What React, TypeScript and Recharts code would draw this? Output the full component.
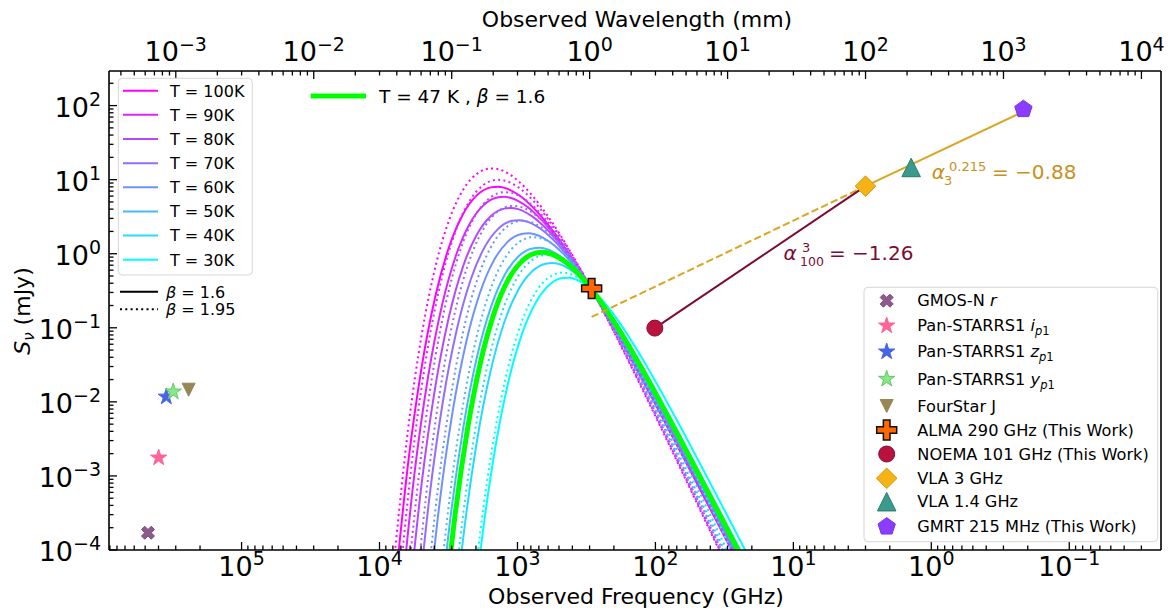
import React from 'react';
import { ComposedChart, Line, Scatter, XAxis, YAxis } from 'recharts';

const FONT = '"DejaVu Sans", Verdana, sans-serif';

// modified blackbody curves
// frequency axis per temperature, log10(GHz)
const nu100 = [1.193, 1.393, 1.593, 1.793, 1.993, 2.193, 2.393, 2.593, 2.793, 2.893, 2.993, 3.093, 3.143, 3.193, 3.293, 3.393, 3.493, 3.593, 3.693, 3.793, 3.893];
const nu90 = [1.147, 1.347, 1.547, 1.747, 1.947, 2.147, 2.347, 2.547, 2.747, 2.847, 2.947, 3.047, 3.097, 3.147, 3.247, 3.347, 3.447, 3.547, 3.647, 3.747, 3.847];
const nu80 = [1.096, 1.296, 1.496, 1.696, 1.896, 2.096, 2.296, 2.496, 2.696, 2.796, 2.896, 2.996, 3.046, 3.096, 3.196, 3.296, 3.396, 3.496, 3.596, 3.696, 3.796];
const nu70 = [1.038, 1.238, 1.438, 1.638, 1.838, 2.038, 2.238, 2.438, 2.638, 2.738, 2.838, 2.938, 2.988, 3.038, 3.138, 3.238, 3.338, 3.438, 3.538, 3.638, 3.738];
const nu60 = [0.971, 1.171, 1.371, 1.571, 1.771, 1.971, 2.171, 2.371, 2.571, 2.671, 2.771, 2.871, 2.921, 2.971, 3.071, 3.171, 3.271, 3.371, 3.471, 3.571, 3.671];
const nu50 = [0.892, 1.092, 1.292, 1.492, 1.692, 1.892, 2.092, 2.292, 2.492, 2.592, 2.692, 2.792, 2.842, 2.892, 2.992, 3.092, 3.192, 3.292, 3.392, 3.492, 3.592];
const nu47 = [0.865, 1.065, 1.265, 1.465, 1.665, 1.865, 2.065, 2.265, 2.465, 2.565, 2.665, 2.765, 2.815, 2.865, 2.965, 3.065, 3.165, 3.265, 3.365, 3.465, 3.565];
const nu40 = [0.795, 0.995, 1.195, 1.395, 1.595, 1.795, 1.995, 2.195, 2.395, 2.495, 2.595, 2.695, 2.745, 2.795, 2.895, 2.995, 3.095, 3.195, 3.295, 3.395, 3.495];
const nu30 = [0.67, 0.87, 1.07, 1.27, 1.47, 1.67, 1.87, 2.07, 2.27, 2.37, 2.47, 2.57, 2.62, 2.67, 2.77, 2.87, 2.97, 3.07, 3.17, 3.27, 3.37];

// log10(mJy), beta = 1.6
const s100a = [-4.918, -4.198, -3.48, -2.765, -2.056, -1.363, -0.701, -0.093, 0.427, 0.636, 0.796, 0.889, 0.905, 0.896, 0.791, 0.541, 0.107, -0.557, -1.513, -2.835, -4.619];
const s90a = [-5.066, -4.347, -3.629, -2.914, -2.203, -1.508, -0.842, -0.231, 0.289, 0.498, 0.658, 0.752, 0.768, 0.759, 0.653, 0.403, -0.03, -0.695, -1.651, -2.973, -4.756];
const s80a = [-5.23, -4.511, -3.793, -3.077, -2.366, -1.668, -0.998, -0.383, 0.139, 0.348, 0.508, 0.602, 0.618, 0.609, 0.503, 0.253, -0.18, -0.845, -1.801, -3.123, -4.906];
const s70a = [-5.413, -4.693, -3.974, -3.258, -2.546, -1.846, -1.173, -0.552, -0.026, 0.184, 0.344, 0.437, 0.453, 0.445, 0.339, 0.089, -0.345, -1.009, -1.965, -3.287, -5.071];
const s60a = [-5.618, -4.899, -4.18, -3.462, -2.75, -2.047, -1.368, -0.74, -0.207, 0.005, 0.165, 0.259, 0.275, 0.266, 0.16, -0.09, -0.523, -1.188, -2.143, -3.466, -5.249];
const s50a = [-5.852, -5.133, -4.414, -3.697, -2.982, -2.277, -1.592, -0.954, -0.41, -0.194, -0.031, 0.065, 0.081, 0.072, -0.034, -0.284, -0.717, -1.382, -2.338, -3.66, -5.443];
const s47a = [-5.93, -5.21, -4.491, -3.773, -3.059, -2.352, -1.666, -1.024, -0.476, -0.258, -0.093, 0.003, 0.019, 0.011, -0.095, -0.345, -0.779, -1.443, -2.399, -3.721, -5.505];
const s40a = [-6.124, -5.405, -4.685, -3.967, -3.252, -2.544, -1.852, -1.202, -0.639, -0.413, -0.243, -0.143, -0.126, -0.134, -0.239, -0.489, -0.922, -1.587, -2.542, -3.865, -5.648];
const s30a = [-6.444, -5.723, -5.005, -4.286, -3.569, -2.858, -2.161, -1.496, -0.904, -0.66, -0.47, -0.352, -0.326, -0.328, -0.423, -0.669, -1.099, -1.763, -2.719, -4.041, -5.825];

// log10(mJy), beta = 1.95
const s100b = [-5.362, -4.573, -3.785, -2.999, -2.221, -1.458, -0.725, -0.047, 0.543, 0.787, 0.981, 1.11, 1.143, 1.152, 1.081, 0.866, 0.468, -0.162, -1.082, -2.37, -4.118];
const s90b = [-5.527, -4.737, -3.949, -3.164, -2.383, -1.618, -0.883, -0.202, 0.389, 0.633, 0.828, 0.956, 0.99, 0.998, 0.928, 0.713, 0.314, -0.315, -1.236, -2.523, -4.272];
const s80b = [-5.709, -4.919, -4.131, -3.345, -2.564, -1.796, -1.057, -0.371, 0.221, 0.465, 0.66, 0.788, 0.822, 0.831, 0.76, 0.545, 0.146, -0.483, -1.404, -2.691, -4.44];
const s70b = [-5.911, -5.122, -4.333, -3.546, -2.765, -1.995, -1.251, -0.561, 0.036, 0.281, 0.475, 0.604, 0.637, 0.646, 0.575, 0.36, -0.038, -0.668, -1.588, -2.876, -4.624];
const s60b = [-6.14, -5.351, -4.562, -3.774, -2.992, -2.219, -1.47, -0.772, -0.169, 0.078, 0.273, 0.402, 0.435, 0.444, 0.373, 0.158, -0.24, -0.87, -1.79, -3.078, -4.826];
const s50b = [-6.402, -5.613, -4.824, -4.036, -3.252, -2.477, -1.722, -1.014, -0.399, -0.148, 0.049, 0.18, 0.213, 0.222, 0.151, -0.064, -0.462, -1.092, -2.012, -3.299, -5.048];
const s40b = [-6.708, -5.918, -5.129, -4.341, -3.555, -2.777, -2.016, -1.296, -0.663, -0.402, -0.196, -0.062, -0.027, -0.018, -0.087, -0.302, -0.701, -1.33, -2.251, -3.538, -5.287];
const s30b = [-7.071, -6.281, -5.492, -4.703, -3.917, -3.136, -2.368, -1.633, -0.971, -0.692, -0.467, -0.314, -0.271, -0.255, -0.316, -0.526, -0.921, -1.551, -2.471, -3.759, -5.507];

const temps = [100, 90, 80, 70, 60, 50, 40, 30];
const tempNu = [nu100, nu90, nu80, nu70, nu60, nu50, nu40, nu30];
const tempS16 = [s100a, s90a, s80a, s70a, s60a, s50a, s40a, s30a];
const tempS195 = [s100b, s90b, s80b, s70b, s60b, s50b, s40b, s30b];
const tempColors = ['#ff00ff', '#db24ff', '#b649ff', '#926dff', '#6d92ff', '#49b6ff', '#24dbff', '#00ffff'];

// photometry: GHz, mJy
const photNames = ['GMOS-N r', 'Pan-STARRS1 i', 'Pan-STARRS1 z', 'Pan-STARRS1 y', 'FourStar J', 'ALMA 290 GHz', 'NOEMA 101 GHz', 'VLA 3 GHz', 'VLA 1.4 GHz', 'GMRT 215 MHz'];
const photFreq = [4.77e5, 3.99e5, 3.51e5, 3.13e5, 2.42e5, 290, 101, 3, 1.4, 0.215];
const photFlux = [1.71e-4, 1.76e-3, 0.0117, 0.0137, 0.0146, 0.34, 0.099, 8.17, 14.6, 89.3];

// spectral index lines
const radioFitFreq = [3, 0.215];
const radioFitFlux = [8.17, 83];
const radioExtFreq = [290, 3];
const radioExtFlux = [0.14, 8.17];
const mmFitFreq = [101, 3];
const mmFitFlux = [0.099, 8.17];

const photStyle = [
  { kind: 'X', fill: '#8c5a8c', stroke: '#7a4a7a' },
  { kind: 'star', fill: '#ff6496', stroke: '#ff6496' },
  { kind: 'star', fill: '#4664e6', stroke: '#4664e6' },
  { kind: 'star', fill: '#86e886', stroke: '#66c466' },
  { kind: 'vtri', fill: '#968755', stroke: '#968755' },
  { kind: 'P', fill: '#ff6600', stroke: '#111' },
  { kind: 'circle', fill: '#b8123f', stroke: '#8c0d2f' },
  { kind: 'D', fill: '#f5b316', stroke: '#d99a0d' },
  { kind: 'tri', fill: '#3a9a8c', stroke: '#2b7a6e' },
  { kind: 'pent', fill: '#8a3cff', stroke: '#7a30e8' },
];

const X_MIN = -1.665;
const X_MAX = 5.961;
const Y_MIN = -4;
const Y_MAX = 2.467;
const LOG_C = Math.log10(299.792458);

const zip = (xs: number[], ys: number[]) => xs.map((x, i) => ({ x, y: ys[i] }));
const toLog = (f: number[], s: number[]) => f.map((v, i) => ({ x: Math.log10(v), y: Math.log10(s[i]) }));

const logTicks = (lo: number, hi: number) => {
  const out: number[] = [];
  for (let n = Math.floor(lo); n <= Math.ceil(hi); n++) {
    for (let k = 1; k < 10; k++) {
      const v = n + Math.log10(k);
      if (v >= lo - 1e-9 && v <= hi + 1e-9) out.push(v);
    }
  }
  return out;
};
const bottomTicks = logTicks(X_MIN, X_MAX);
const yTicks = logTicks(Y_MIN, Y_MAX);
const topTicks = logTicks(LOG_C - X_MAX, LOG_C - X_MIN).map((v) => LOG_C - v);

const isInt = (v: number) => Math.abs(v - Math.round(v)) < 1e-6;
const expText = (n: number) => (n < 0 ? '\u2212' + Math.abs(n) : String(n));

const BottomTick = (props: any) => {
  const { x, y, payload } = props;
  const major = isInt(payload.value);
  return (
    <g>
      <line x1={x} x2={x} y1={y} y2={y - (major ? 8 : 4.5)} stroke="#000" strokeWidth={1.3} />
      {major && (
        <text x={x} y={y + 26} textAnchor="middle" fontSize={27} fontFamily={FONT} fill="#000">
          10<tspan dy={-11} fontSize={19}>{expText(Math.round(payload.value))}</tspan>
        </text>
      )}
    </g>
  );
};

const TopTick = (props: any) => {
  const { x, y, payload } = props;
  const m = LOG_C - payload.value;
  const major = isInt(m);
  return (
    <g>
      <line x1={x} x2={x} y1={y} y2={y + (major ? 8 : 4.5)} stroke="#000" strokeWidth={1.3} />
      {major && (
        <text x={x} y={y - 10} textAnchor="middle" fontSize={27} fontFamily={FONT} fill="#000">
          10<tspan dy={-10} fontSize={19}>{expText(Math.round(m))}</tspan>
        </text>
      )}
    </g>
  );
};

const LeftTick = (props: any) => {
  const { x, y, payload } = props;
  const major = isInt(payload.value);
  return (
    <g>
      <line x1={x} x2={x + (major ? 8 : 4.5)} y1={y} y2={y} stroke="#000" strokeWidth={1.3} />
      {major && (
        <text x={x - 8} y={y + 11.4} textAnchor="end" fontSize={27} fontFamily={FONT} fill="#000">
          10<tspan dy={-11} fontSize={19}>{expText(Math.round(payload.value))}</tspan>
        </text>
      )}
    </g>
  );
};

const X_PTS = [[-1, -2], [0, -1], [1, -2], [2, -1], [1, 0], [2, 1], [1, 2], [0, 1], [-1, 2], [-2, 1], [-1, 0], [-2, -1]];
const P_PTS = [[-1, -3], [1, -3], [1, -1], [3, -1], [3, 1], [1, 1], [1, 3], [-1, 3], [-1, 1], [-3, 1], [-3, -1], [-1, -1]];

const pathOf = (pts: number[][], cx: number, cy: number, s: number) =>
  pts.map(([px, py], i) => `${i ? 'L' : 'M'}${(cx + px * s).toFixed(2)},${(cy + py * s).toFixed(2)}`).join('') + 'Z';

const radial = (n: number, r1: number, r2: number) => {
  const pts: number[][] = [];
  const count = r2 > 0 ? n * 2 : n;
  for (let k = 0; k < count; k++) {
    const a = -Math.PI / 2 + (k * 2 * Math.PI) / count;
    const r = r2 > 0 && k % 2 ? r2 : r1;
    pts.push([Math.cos(a) * r, Math.sin(a) * r]);
  }
  return pts;
};

function Marker({ kind, cx, cy, fill, stroke }: any) {
  if (cx == null || cy == null) return null;
  const common = { fill, stroke, strokeWidth: 1 };
  switch (kind) {
    case 'circle':
      return <circle cx={cx} cy={cy} r={8} {...common} />;
    case 'X':
      return <path d={pathOf(X_PTS, cx, cy, 13 / 4)} {...common} />;
    case 'P':
      return <path d={pathOf(P_PTS, cx, cy, 20 / 6)} fill={fill} stroke={stroke} strokeWidth={1.5} />;
    case 'star':
      return <path d={pathOf(radial(5, 8.6, 3.3), cx, cy, 1)} {...common} />;
    case 'pent':
      return <path d={pathOf(radial(5, 9.1, 0), cx, cy, 1)} {...common} />;
    case 'D':
      return <path d={pathOf([[0, -10.3], [10.3, 0], [0, 10.3], [-10.3, 0]], cx, cy, 1)} {...common} />;
    case 'tri':
      return <path d={pathOf([[0, -1], [-1, 1], [1, 1]], cx, cy, 9.25)} {...common} />;
    case 'vtri':
      return <path d={pathOf([[0, 1], [-1, -1], [1, -1]], cx, cy, 6.5)} {...common} />;
    default:
      return null;
  }
}

const sub = (body: React.ReactNode) => (
  <tspan dy={4} fontSize={11.5}>{body}</tspan>
);

const photLabels: React.ReactNode[] = [
  <>GMOS-N <tspan fontStyle="italic">r</tspan></>,
  <>Pan-STARRS1 <tspan fontStyle="italic">i</tspan>{sub(<><tspan fontStyle="italic">p</tspan>1</>)}</>,
  <>Pan-STARRS1 <tspan fontStyle="italic">z</tspan>{sub(<><tspan fontStyle="italic">p</tspan>1</>)}</>,
  <>Pan-STARRS1 <tspan fontStyle="italic">y</tspan>{sub(<><tspan fontStyle="italic">p</tspan>1</>)}</>,
  <>FourStar J</>,
  <>ALMA 290 GHz (This Work)</>,
  <>NOEMA 101 GHz (This Work)</>,
  <>VLA 3 GHz</>,
  <>VLA 1.4 GHz</>,
  <>GMRT 215 MHz (This Work)</>,
];
const photRowY = [300.7, 325.7, 351.7, 379, 406, 430, 454, 478.3, 501.7, 526.7];

const axisLine = { stroke: '#000', strokeWidth: 1.6 };

export default function App() {
  return (
    <div style={{ position: 'absolute', left: 0, top: 0, width: 1168, height: 610, background: '#fff', fontFamily: FONT }}>
      <ComposedChart width={1168} height={610} margin={{ top: 0, right: 0, bottom: 0, left: 0 }}>
        <XAxis
          type="number"
          dataKey="x"
          domain={[X_MIN, X_MAX]}
          reversed
          allowDataOverflow
          ticks={bottomTicks}
          interval={0}
          tick={BottomTick}
          tickLine={false}
          tickSize={0}
          tickMargin={0}
          height={60}
          axisLine={axisLine}
        />
        <XAxis
          xAxisId="top"
          orientation="top"
          type="number"
          dataKey="x"
          domain={[X_MIN, X_MAX]}
          reversed
          allowDataOverflow
          ticks={topTicks}
          interval={0}
          tick={TopTick}
          tickLine={false}
          tickSize={0}
          tickMargin={0}
          height={71}
          axisLine={axisLine}
        />
        <YAxis
          type="number"
          dataKey="y"
          domain={[Y_MIN, Y_MAX]}
          allowDataOverflow
          ticks={yTicks}
          interval={0}
          tick={LeftTick}
          tickLine={false}
          tickSize={0}
          tickMargin={0}
          width={109}
          axisLine={axisLine}
        />
        <YAxis
          yAxisId="r"
          orientation="right"
          type="number"
          domain={[Y_MIN, Y_MAX]}
          allowDataOverflow
          tick={false}
          tickLine={false}
          width={7}
          axisLine={axisLine}
        />

        {temps.map((t, i) => (
          <Line
            key={'s' + t}
            data={zip(tempNu[i], tempS16[i])}
            dataKey="y"
            type="monotone"
            stroke={tempColors[i]}
            strokeWidth={2}
            dot={false}
            activeDot={false}
            isAnimationActive={false}
          />
        ))}
        {temps.map((t, i) => (
          <Line
            key={'d' + t}
            data={zip(tempNu[i], tempS195[i])}
            dataKey="y"
            type="monotone"
            stroke={tempColors[i]}
            strokeWidth={2}
            strokeDasharray="2 3.3"
            dot={false}
            activeDot={false}
            isAnimationActive={false}
          />
        ))}
        <Line
          data={zip(nu47, s47a)}
          dataKey="y"
          type="monotone"
          stroke="#00ff00"
          strokeWidth={5}
          dot={false}
          activeDot={false}
          isAnimationActive={false}
        />

        <Line data={toLog(radioExtFreq, radioExtFlux)} dataKey="y" type="linear" stroke="#daa520" strokeWidth={2} strokeDasharray="7.4 3.2" dot={false} activeDot={false} isAnimationActive={false} />
        <Line data={toLog(mmFitFreq, mmFitFlux)} dataKey="y" type="linear" stroke="#7d0a36" strokeWidth={2} dot={false} activeDot={false} isAnimationActive={false} />
        <Line data={toLog(radioFitFreq, radioFitFlux)} dataKey="y" type="linear" stroke="#daa520" strokeWidth={2} dot={false} activeDot={false} isAnimationActive={false} />

        {photFreq.map((f, i) => (
          <Scatter
            key={photNames[i]}
            data={[{ x: Math.log10(f), y: Math.log10(photFlux[i]) }]}
            isAnimationActive={false}
            shape={(p: any) => <Marker kind={photStyle[i].kind} cx={p.cx} cy={p.cy} fill={photStyle[i].fill} stroke={photStyle[i].stroke} />}
          />
        ))}
      </ComposedChart>

      <svg width={1168} height={610} style={{ position: 'absolute', left: 0, top: 0, pointerEvents: 'none' }} fontFamily={FONT}>
        <text x={637} y={27} textAnchor="middle" fontSize={22}>Observed Wavelength (mm)</text>
        <text x={636} y={604} textAnchor="middle" fontSize={22}>Observed Frequency (GHz)</text>
        <text transform="translate(30,311) rotate(-90)" textAnchor="middle" fontSize={22}>
          <tspan fontStyle="italic">S</tspan>
          <tspan dy={4} fontSize={15} fontStyle="italic">ν</tspan>
          <tspan dy={-4}> (mJy)</tspan>
        </text>

        {/* temperature legend */}
        <rect x={118.3} y={78.3} width={134} height={196.7} rx={4} fill="#fff" fillOpacity={0.8} stroke="#d6d6d6" />
        {temps.map((t, i) => {
          const y = 90.7 + i * 24.15;
          return (
            <g key={t}>
              <line x1={123} x2={158} y1={y} y2={y} stroke={tempColors[i]} strokeWidth={2} />
              <text x={170} y={y + 5.8} fontSize={16}>{`T = ${t}K`}</text>
            </g>
          );
        })}

        {/* beta legend */}
        <line x1={120} x2={158} y1={291.7} y2={291.7} stroke="#000" strokeWidth={2} />
        <text x={166} y={297.5} fontSize={16}><tspan fontStyle="italic">β</tspan> = 1.6</text>
        <line x1={120} x2={158} y1={309.3} y2={309.3} stroke="#000" strokeWidth={2} strokeDasharray="2 3.3" />
        <text x={166} y={315} fontSize={16}><tspan fontStyle="italic">β</tspan> = 1.95</text>

        {/* best-fit legend */}
        <line x1={310.7} x2={366} y1={96} y2={96} stroke="#00ff00" strokeWidth={5} />
        <text x={379} y={102.8} fontSize={18.5}>T = 47 K , <tspan fontStyle="italic">β</tspan> = 1.6</text>

        {/* photometry legend */}
        <rect x={864} y={287.3} width={293.7} height={254.4} rx={4} fill="#fff" fillOpacity={0.8} stroke="#d6d6d6" />
        {photNames.map((n, i) => (
          <g key={n}>
            <Marker kind={photStyle[i].kind} cx={886.7} cy={photRowY[i]} fill={photStyle[i].fill} stroke={photStyle[i].stroke} />
            <text x={917.3} y={photRowY[i] + 5.5} fontSize={16.2}>{photLabels[i]}</text>
          </g>
        ))}

        {/* spectral index labels */}
        <g fill="#c8901c" fontSize={20}>
          <text x={931.7} y={179.3} fontStyle="italic">α</text>
          <text x={949} y={171} fontSize={13}>0.215</text>
          <text x={944} y={185} fontSize={13}>3</text>
          <text x={992} y={179.3}>= −0.88</text>
        </g>
        <g fill="#7d0a36" fontSize={20}>
          <text x={783.5} y={260} fontStyle="italic">α</text>
          <text x={802} y={252} fontSize={13}>3</text>
          <text x={800} y={266} fontSize={12.5}>100</text>
          <text x={829} y={260}>= −1.26</text>
        </g>
      </svg>
    </div>
  );
}
